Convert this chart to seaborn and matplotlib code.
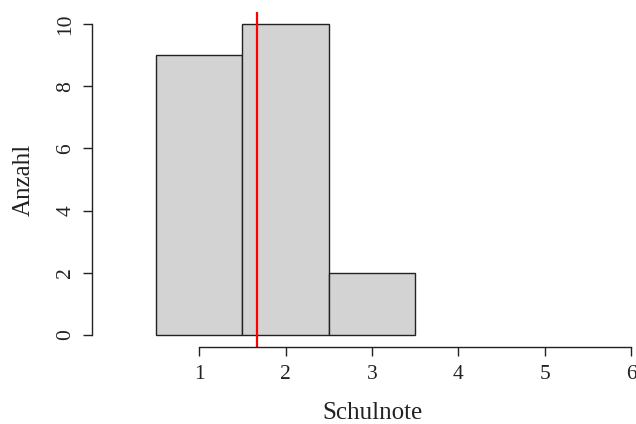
import numpy as np
import pandas as pd
import matplotlib
matplotlib.use("Agg")
import matplotlib.pyplot as plt
import seaborn as sns

# Data
grades = [1, 2, 3]
counts = [9, 10, 2]
bin_edges = [0.5, 1.5, 2.5, 3.5]
x_ticks = [1, 2, 3, 4, 5, 6]
y_ticks = [0, 2, 4, 6, 8, 10]

df = pd.DataFrame({"Schulnote": grades, "Anzahl": counts})
mean_grade = np.average(df["Schulnote"], weights=df["Anzahl"])

sns.set_style("ticks")
plt.rcParams["font.family"] = ["Liberation Serif", "DejaVu Serif"]

fig = plt.figure(figsize=(6.36, 4.24), dpi=100)
W, H = 636, 424
left, right, top, bottom = 92, 652, 12, 347
ax = fig.add_axes([left / W, (H - bottom) / H, (right - left) / W, (bottom - top) / H])

sns.histplot(data=df, x="Schulnote", weights="Anzahl", bins=bin_edges, ax=ax,
             color="#D3D3D3", edgecolor="#222222", linewidth=1.0, alpha=1.0)
ax.axvline(mean_grade, color="red", lw=1.6)

ax.set_xlim(-0.24, 6.24)
ax.set_ylim(-0.4, 10.4)
ax.set_xticks(x_ticks)
ax.set_yticks(y_ticks)
ax.set_xticklabels([str(t) for t in x_ticks])
ax.set_yticklabels([str(t) for t in y_ticks], rotation=90, va="center")

for s in ["top", "right"]:
    ax.spines[s].set_visible(False)
ax.spines["left"].set_bounds(0, 10)
ax.spines["bottom"].set_bounds(1, 6)
for s in ["left", "bottom"]:
    ax.spines[s].set_linewidth(1.0)
    ax.spines[s].set_color("#222222")

ax.tick_params(axis="both", direction="out", length=6.5, width=1.0, color="#222222",
               labelsize=15.5, labelcolor="#222222")
ax.tick_params(axis="x", pad=6.5)
ax.tick_params(axis="y", pad=5.5)

ax.set_xlabel("Schulnote", fontsize=18, color="#222222")
ax.set_ylabel("Anzahl", fontsize=18, color="#222222")
ax.xaxis.set_label_coords((372 - left) / (right - left), -(413 - bottom) / (bottom - top))
ax.xaxis.label.set_va("center")
ax.yaxis.set_label_coords(-(left - 24) / (right - left), 1 - (180 - top) / (bottom - top))
ax.yaxis.label.set_va("center")

ax.set_facecolor("white")
fig.patch.set_facecolor("white")
fig.savefig("out.png", dpi=100)
